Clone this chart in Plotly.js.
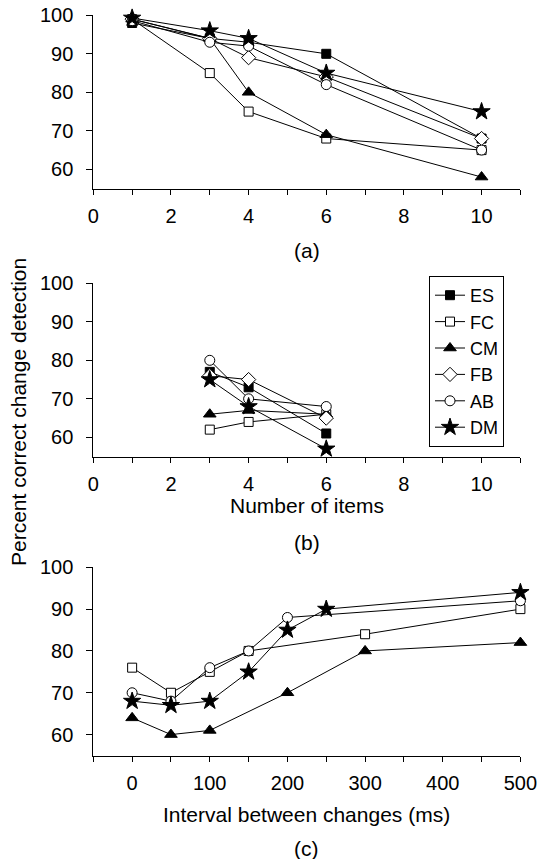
<!DOCTYPE html>
<html><head><meta charset="utf-8">
<script src="https://cdn.plot.ly/plotly-3.0.1.min.js"></script>
<style>html,body{margin:0;padding:0;background:#fff}#chart{width:540px;height:859px}</style>
</head><body><div id="chart"></div>
<script>
// ---- data ----
const seriesNames = ['ES','FC','CM','FB','AB','DM'];
// panel (a): number of items
const itemsA = [1,3,4,6,10];
const ES_a = [98,94,93,90,68];
const FC_a = [99,85,75,68,65];
const CM_a = [99,94,80,69,58];
const FB_a = [99,94,89,84,68];
const AB_a = [98.6,93,92,82,65];
const DM_a = [99.3,96,94,85,75];
// panel (b): number of items
const itemsB = [3,4,6];
const ES_b = [77,73,61];
const FC_b = [62,64,66];
const CM_b = [66,67,66];
const FB_b = [76,75,65];
const AB_b = [80,70,68];
const DM_b = [75,68,57];
// panel (c): interval between changes (ms)
const ivFC = [0,50,100,150,300,500];
const FC_c = [76,70,75,80,84,90];
const ivCM = [0,50,100,200,300,500];
const CM_c = [64,60,61,70,80,82];
const ivAB = [0,50,100,150,200,500];
const AB_c = [70,68,76,80,88,92];
const ivDM = [0,50,100,150,200,250,500];
const DM_c = [68,67,68,75,85,90,94];
// tick labels
const yTicks = [60,70,80,90,100];
const xTicksAB = [0,1,2,3,4,5,6,7,8,9,10,11];
const xLabelsAB = ['0','','2','','4','','6','','8','','10',''];
const xTicksC = [-50,0,50,100,150,200,250,300,350,400,450,500];
const xLabelsC = ['','0','','100','','200','','300','','400','','500'];

// ---- styles ----
const sty = {
  ES:{symbol:'square', color:'#000', size:9},
  FC:{symbol:'square', color:'#fff', size:9},
  CM:{symbol:'triangle-up', color:'#000', size:11},
  FB:{symbol:'diamond', color:'#fff', size:11},
  AB:{symbol:'circle', color:'#fff', size:10},
  DM:{symbol:'star', color:'#000', size:13}
};
function tr(name, x, y, xa, ya, show){
  const s = sty[name];
  return {type:'scatter', mode:'lines+markers', name:name, x:x, y:y, xaxis:xa, yaxis:ya,
    showlegend:show, legendgroup:name, cliponaxis:false,
    line:{color:'#000', width:1},
    marker:{symbol:s.symbol, color:s.color, size:s.size, line:{color:'#000', width:1}}};
}
const traces = [
  tr('ES', itemsA, ES_a, 'x','y', false),
  tr('FC', itemsA, FC_a, 'x','y', false),
  tr('CM', itemsA, CM_a, 'x','y', false),
  tr('FB', itemsA, FB_a, 'x','y', false),
  tr('AB', itemsA, AB_a, 'x','y', false),
  tr('DM', itemsA, DM_a, 'x','y', false),
  tr('ES', itemsB, ES_b, 'x2','y2', true),
  tr('FC', itemsB, FC_b, 'x2','y2', true),
  tr('CM', itemsB, CM_b, 'x2','y2', true),
  tr('FB', itemsB, FB_b, 'x2','y2', true),
  tr('AB', itemsB, AB_b, 'x2','y2', true),
  tr('DM', itemsB, DM_b, 'x2','y2', true),
  tr('FC', ivFC, FC_c, 'x3','y3', false),
  tr('CM', ivCM, CM_c, 'x3','y3', false),
  tr('AB', ivAB, AB_c, 'x3','y3', false),
  tr('DM', ivDM, DM_c, 'x3','y3', false)
];

const W = 540, H = 859;
const px = v => v / W, py = v => 1 - v / H;
const fam = 'Liberation Sans, Arial, sans-serif';
const tickFont = {family:fam, size:20, color:'#000'};
const titleFont = {family:fam, size:21, color:'#000'};
const xDom = [px(93.3), px(520.4)];
function xAx(range, tv, tt, anchor){
  return {domain:xDom, range:range, anchor:anchor, showline:true, linecolor:'#000', linewidth:1,
    showgrid:false, zeroline:false, ticks:'outside', ticklen:5, tickwidth:1, tickcolor:'#000',
    tickmode:'array', tickvals:tv, ticktext:tt, tickfont:tickFont, ticklabelstandoff:4, fixedrange:true};
}
function yAx(dom, anchor){
  return {domain:dom, range:[55,100], anchor:anchor, showline:true, linecolor:'#000', linewidth:1,
    showgrid:false, zeroline:false, ticks:'outside', ticklen:6, tickwidth:1, tickcolor:'#000',
    tickmode:'array', tickvals:yTicks, tickfont:tickFont, ticklabelstandoff:9, fixedrange:true};
}
function ann(text, x, y, extra){
  return Object.assign({text:text, x:px(x), y:py(y), xref:'paper', yref:'paper',
    showarrow:false, font:titleFont, xanchor:'center', yanchor:'middle'}, extra||{});
}
const cx = (93.3 + 520.4) / 2;
const layout = {
  width:W, height:H, margin:{l:0,r:0,t:0,b:0}, paper_bgcolor:'#fff', plot_bgcolor:'rgba(0,0,0,0)',
  font:tickFont,
  xaxis: xAx([0,11], xTicksAB, xLabelsAB, 'y'),
  yaxis: yAx([py(188.6), py(15.3)], 'x'),
  xaxis2: xAx([0,11], xTicksAB, xLabelsAB, 'y2'),
  yaxis2: yAx([py(456.6), py(283.3)], 'x2'),
  xaxis3: xAx([-50,500], xTicksC, xLabelsC, 'y3'),
  yaxis3: yAx([py(755.5), py(567.3)], 'x3'),
  legend:{x:px(429), y:py(276), xanchor:'left', yanchor:'top', bgcolor:'#fff',
    bordercolor:'#000', borderwidth:1, font:{family:fam, size:18, color:'#000'}, tracegroupgap:0, itemwidth:30},
  annotations:[
    ann('(a)', cx, 251),
    ann('Number of items', cx, 506),
    ann('(b)', cx, 542),
    ann('Interval between changes (ms)', cx, 814),
    ann('(c)', cx, 848),
    ann('Percent correct change detection', 18, 412, {textangle:-90})
  ]
};
Plotly.newPlot('chart', traces, layout, {staticPlot:true, displayModeBar:false});
</script>
</body></html>
